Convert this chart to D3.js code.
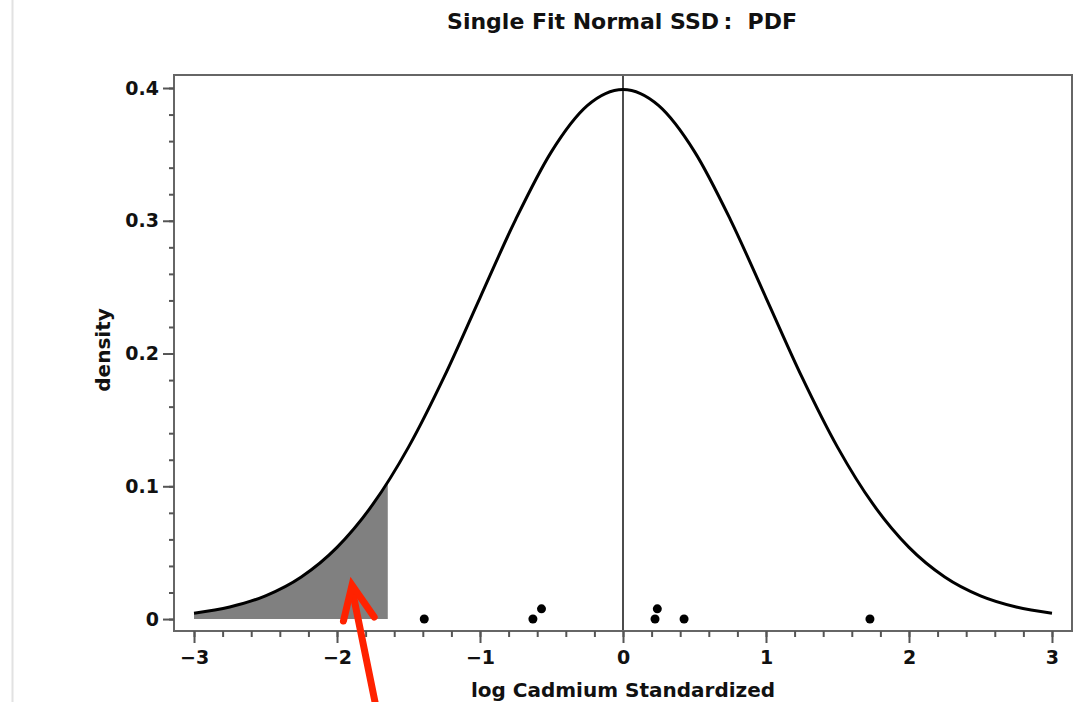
<!DOCTYPE html>
<html>
<head>
<meta charset="utf-8">
<script src="https://cdn.jsdelivr.net/npm/d3@7"></script>
<style>
  body { margin: 0; background: #fff; }
  svg { display: block; font-family: "DejaVu Sans", "Liberation Sans", Arial, sans-serif; }
  .tick text { font-family: "DejaVu Sans", sans-serif; font-weight: bold; font-size: 19px; fill: #111; }
</style>
</head>
<body>
<svg width="1080" height="702"></svg>
<script>
// density curve
const curveX = [-3, -2.75, -2.5, -2.25, -2, -1.75, -1.5, -1.25, -1, -0.75, -0.5, -0.25, 0,
    0.25, 0.5, 0.75, 1, 1.25, 1.5, 1.75, 2, 2.25, 2.5, 2.75, 3];
const curveY = [0.0044, 0.0091, 0.0175, 0.0317, 0.054, 0.0863, 0.1295, 0.1826, 0.242, 0.3011, 0.3521, 0.3867, 0.3989,
    0.3867, 0.3521, 0.3011, 0.242, 0.1826, 0.1295, 0.0863, 0.054, 0.0317, 0.0175, 0.0091, 0.0044];

// shaded lower tail
const shadeX = [-3, -2.75, -2.5, -2.25, -2, -1.75, -1.645];
const shadeY = [0.0044, 0.0091, 0.0175, 0.0317, 0.054, 0.0863, 0.103];

// observations
const pointX = [-1.39, -0.63, -0.57, 0.224, 0.24, 0.427, 1.727];
const pointY = [0, 0, 0.0077, 0, 0.0077, 0, 0];

const xTicks = [-3, -2, -1, 0, 1, 2, 3];
const yTicks = [0, 0.1, 0.2, 0.3, 0.4];

const svg = d3.select('svg');

const margin = { top: 75, right: 8, bottom: 71, left: 174 };
const width = +svg.attr('width');
const height = +svg.attr('height');
const innerWidth = width - margin.left - margin.right;
const innerHeight = height - margin.top - margin.bottom;

// screenshot border on the left
svg.append('line')
    .attr('x1', 12.5).attr('x2', 12.5)
    .attr('y1', 0).attr('y2', height)
    .attr('stroke', '#e2e2e2').attr('stroke-width', 2);

const xScale = d3.scaleLinear()
    .domain([-3.14, 3.14])
    .range([0, innerWidth]);

const yScale = d3.scaleLinear()
    .domain([-0.009, 0.4098])
    .range([innerHeight, 0]);

const g = svg.append('g')
    .attr('transform', `translate(${margin.left}, ${margin.top})`);

// shaded area
const shade = shadeX.map((x, i) => ({ x, y: shadeY[i] }));
g.append('path')
    .datum(shade)
    .attr('fill', '#808080')
    .attr('d', d3.area()
        .x(d => xScale(d.x))
        .y0(yScale(0))
        .y1(d => yScale(d.y))
        .curve(d3.curveMonotoneX));

// vertical line at zero
g.append('line')
    .attr('x1', xScale(0)).attr('x2', xScale(0))
    .attr('y1', 0).attr('y2', innerHeight)
    .attr('stroke', '#111').attr('stroke-width', 1.5);

// density curve
const curve = curveX.map((x, i) => ({ x, y: curveY[i] }));
g.append('path')
    .datum(curve)
    .attr('fill', 'none')
    .attr('stroke', '#000')
    .attr('stroke-width', 3)
    .attr('d', d3.line()
        .x(d => xScale(d.x))
        .y(d => yScale(d.y))
        .curve(d3.curveMonotoneX));

// data points
g.selectAll('circle')
    .data(pointX.map((x, i) => ({ x, y: pointY[i] })))
    .enter()
        .append('circle')
        .attr('cx', d => xScale(d.x))
        .attr('cy', d => yScale(d.y))
        .attr('r', 4.5)
        .attr('fill', '#000');

// frame
g.append('rect')
    .attr('width', innerWidth)
    .attr('height', innerHeight)
    .attr('fill', 'none')
    .attr('stroke', '#666')
    .attr('stroke-width', 2);

// axes
const xAxisG = g.append('g')
    .attr('transform', `translate(0, ${innerHeight})`)
    .call(d3.axisBottom(xScale).tickValues(d3.range(-3, 3.01, 0.2)).tickSize(6).tickFormat(''));
xAxisG.select('.domain').remove();
xAxisG.selectAll('line').attr('stroke', '#555').attr('stroke-width', 2);

const xMajor = g.append('g')
    .attr('transform', `translate(0, ${innerHeight})`)
    .call(d3.axisBottom(xScale).tickValues(xTicks).tickSize(12).tickPadding(8)
        .tickFormat(d => d3.format('d')(d)));
xMajor.select('.domain').remove();
xMajor.selectAll('line').attr('stroke', '#555').attr('stroke-width', 2);

const yMinor = g.append('g')
    .call(d3.axisLeft(yScale).tickValues(d3.range(0, 0.401, 0.02)).tickSize(5).tickFormat(''));
yMinor.select('.domain').remove();
yMinor.selectAll('line').attr('stroke', '#555').attr('stroke-width', 2);

const yMajor = g.append('g')
    .call(d3.axisLeft(yScale).tickValues(yTicks).tickSize(11).tickPadding(4)
        .tickFormat(d => d === 0 ? '0' : d3.format('.1f')(d)));
yMajor.select('.domain').remove();
yMajor.selectAll('line').attr('stroke', '#555').attr('stroke-width', 2);

// titles
svg.append('text')
    .attr('x', 622)
    .attr('y', 29)
    .attr('text-anchor', 'middle')
    .attr('font-weight', 'bold')
    .attr('font-size', 22)
    .attr('fill', '#111')
    .text('Single Fit Normal SSD\u2009:\u00a0 PDF');

svg.append('text')
    .attr('x', margin.left + xScale(0))
    .attr('y', 697)
    .attr('text-anchor', 'middle')
    .attr('font-weight', 'bold')
    .attr('font-size', 20)
    .attr('fill', '#111')
    .text('log Cadmium Standardized');

svg.append('text')
    .attr('transform', `translate(110, ${margin.top + innerHeight / 2 - 3}) rotate(-90)`)
    .attr('text-anchor', 'middle')
    .attr('font-weight', 'bold')
    .attr('font-size', 20)
    .attr('fill', '#111')
    .text('density');

// red annotation arrow
const arrow = g.append('g')
    .attr('stroke', '#ff2200')
    .attr('stroke-width', 7)
    .attr('stroke-linecap', 'round')
    .attr('fill', 'none');
const tip = [xScale(-1.895), yScale(0.0256)];
arrow.append('line')
    .attr('x1', xScale(-1.72)).attr('y1', yScale(-0.07))
    .attr('x2', tip[0]).attr('y2', tip[1] + 4);
arrow.append('polyline')
    .attr('stroke-linejoin', 'miter')
    .attr('points', [
        [xScale(-1.955), yScale(-0.0015)],
        tip,
        [xScale(-1.74), yScale(0.0015)]
    ].map(p => p.join(',')).join(' '));
</script>
</body>
</html>
